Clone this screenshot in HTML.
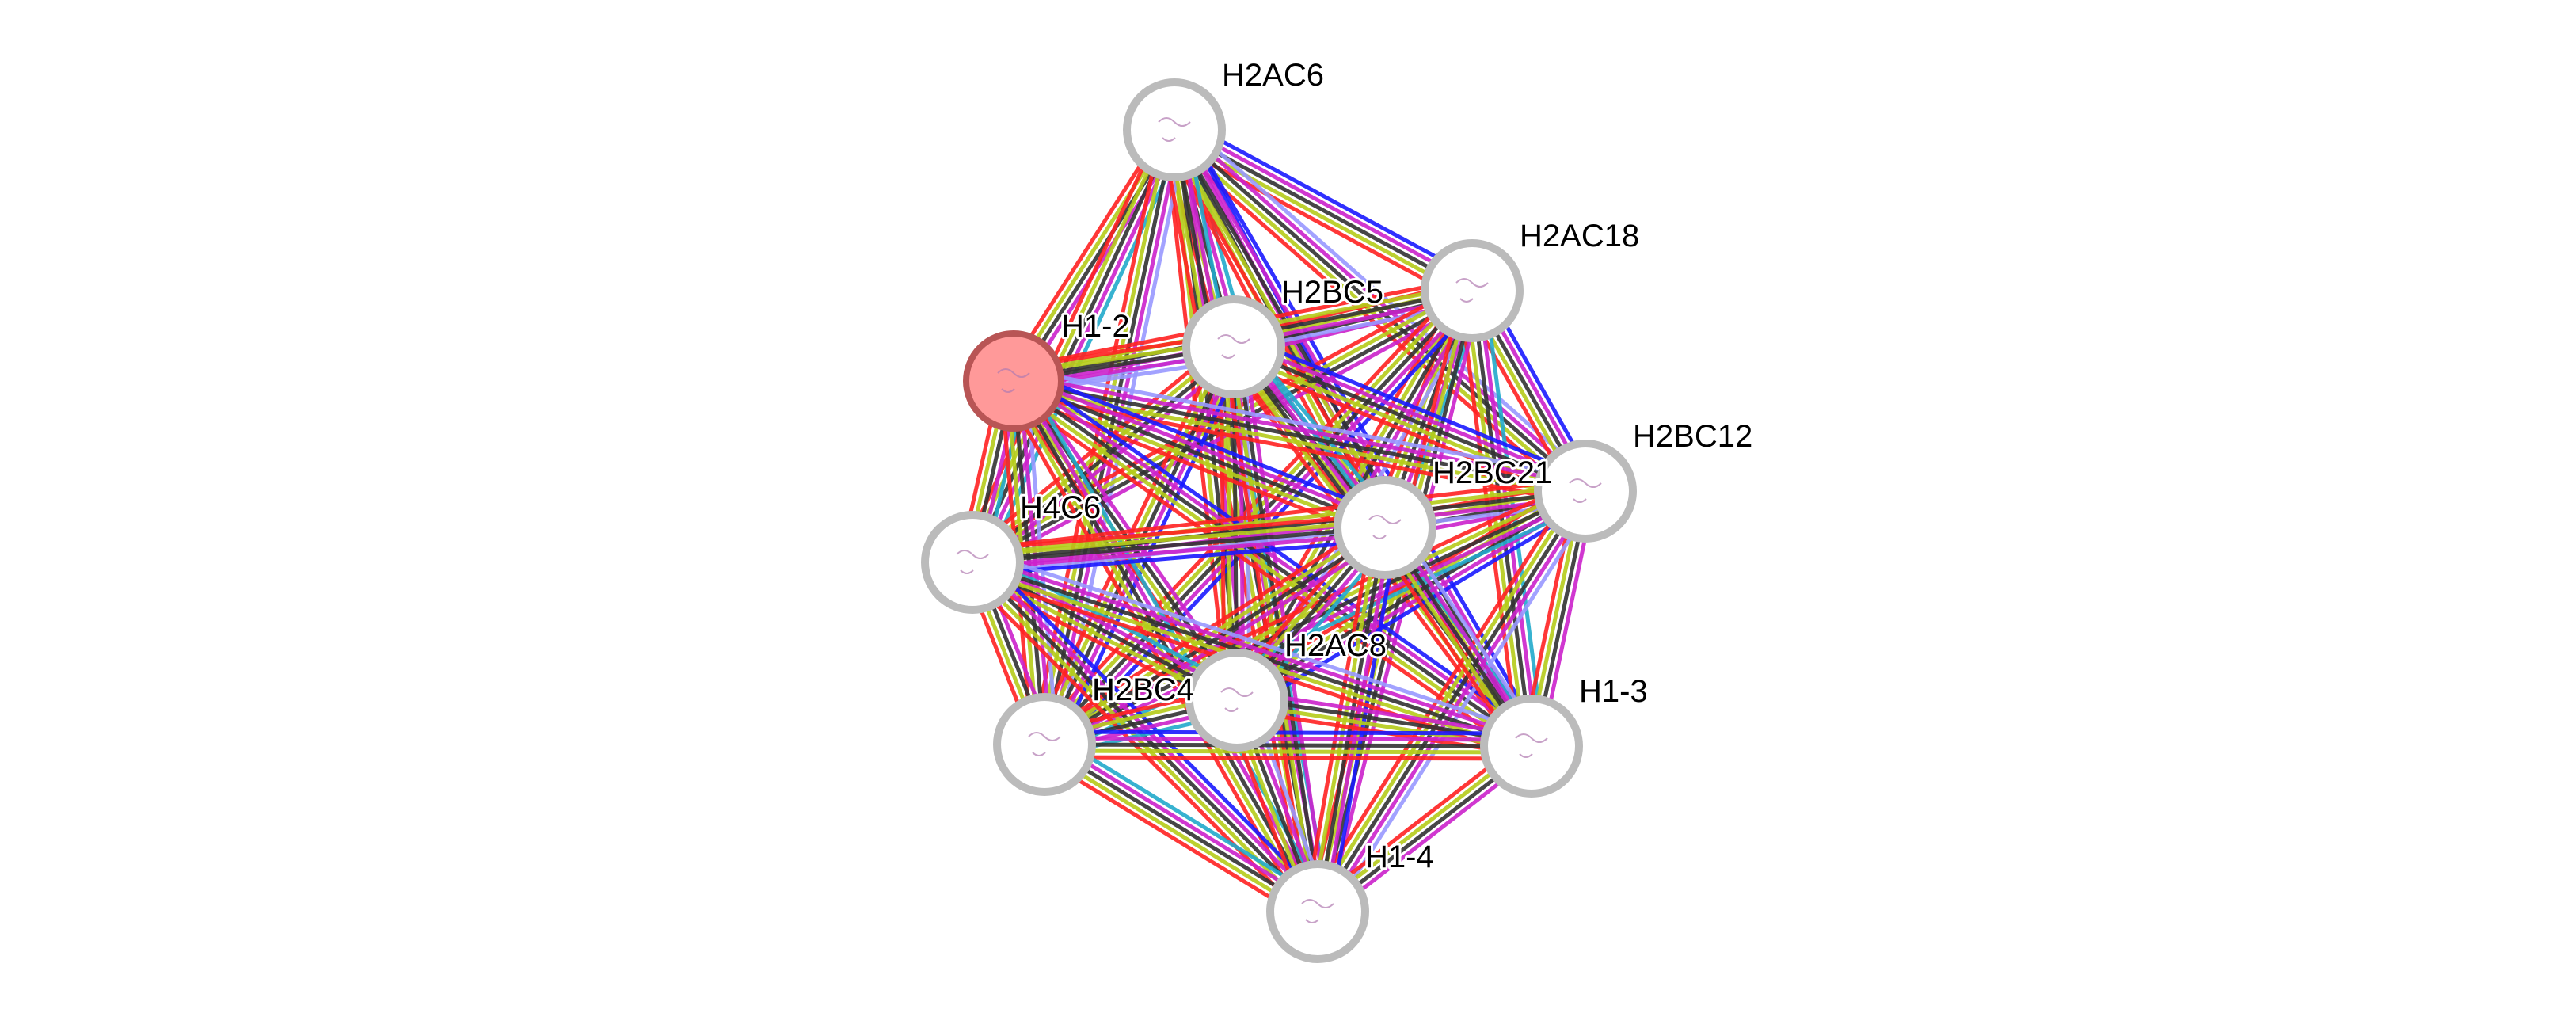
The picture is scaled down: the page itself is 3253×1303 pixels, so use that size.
<!DOCTYPE html>
<html><head><meta charset="utf-8"><style>
html,body{margin:0;padding:0;background:#fff;width:3253px;height:1303px;overflow:hidden}
svg{display:block}
text{font-family:"Liberation Sans",sans-serif;font-size:40px;fill:#000;paint-order:stroke;stroke:#fff;stroke-width:6px;stroke-linejoin:round}
</style></head><body>
<svg id="g" width="3253" height="1303" viewBox="0 0 3253 1303" xmlns="http://www.w3.org/2000/svg"></svg>
<script>
var N=[["H2AC6",1483,164],["H2AC18",1859,367],["H2BC5",1558,438],["H1-2",1280,481],["H2BC12",2002,620],["H2BC21",1749,666],["H4C6",1228,710],["H2AC8",1562,884],["H2BC4",1319,940],["H1-3",1934,942],["H1-4",1664,1151]];
var C=["#9999ff","#1a1aff","#22aacc","#cc22cc","#333333","#b5cc1a","#ff2222"];
var s="";
var k=0;
for(var i=0;i<N.length;i++)for(var j=i+1;j<N.length;j++){
 k++;
 var a=N[i],b=N[j];
 var dx=b[1]-a[1],dy=b[2]-a[2],L=Math.sqrt(dx*dx+dy*dy),px=-dy/L,py=dx/L;
 var cols=[];
 for(var c=0;c<C.length;c++){ if(c>=3 || ((k*5+c*3)%4)==0) cols.push(C[c]); }
 var n=cols.length,sp=8;
 for(var m=0;m<n;m++){var o=(m-(n-1)/2)*sp;
  s+='<line x1="'+(a[1]+px*o)+'" y1="'+(a[2]+py*o)+'" x2="'+(b[1]+px*o)+'" y2="'+(b[2]+py*o)+'" stroke="'+cols[m]+'" stroke-width="5" opacity="0.9"/>';}
}
for(var i=0;i<N.length;i++){var a=N[i];
 if(a[0]=="H1-2") s+='<circle cx="'+a[1]+'" cy="'+a[2]+'" r="60" fill="#ff9999" stroke="#b85555" stroke-width="8"/>';
 else s+='<circle cx="'+a[1]+'" cy="'+a[2]+'" r="60" fill="#fff" stroke="#bbbbbb" stroke-width="10"/>';
 s+='<path d="M'+(a[1]-20)+' '+(a[2]-10)+' q10 -10 20 0 t20 0 M'+(a[1]-15)+' '+(a[2]+10)+' q8 8 16 0" fill="none" stroke="#b07ab0" stroke-width="2" opacity="0.7"/>';
}
for(var i=0;i<N.length;i++){var a=N[i];
 s+='<text x="'+(a[1]+60)+'" y="'+(a[2]-56)+'">'+a[0]+'</text>';}
document.getElementById("g").innerHTML=s;
</script>
</body></html>
